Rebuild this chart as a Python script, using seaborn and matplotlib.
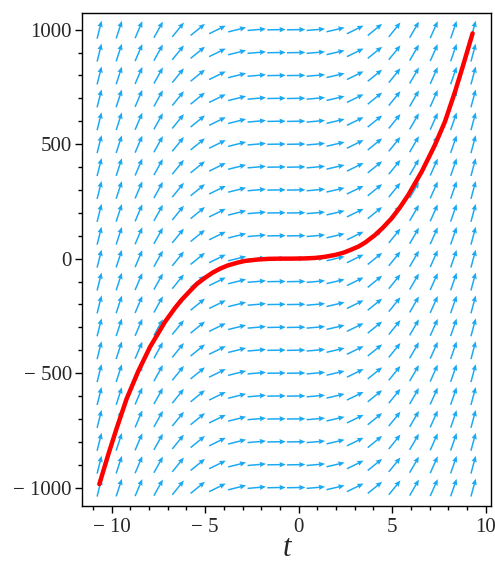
import numpy as np
import seaborn as sns
import matplotlib.pyplot as plt
from matplotlib.ticker import FixedLocator, MultipleLocator

# direction field: 20 columns in t, 21 rows in y
field_t = np.linspace(-10.66, 9.34, 20)
field_y = np.linspace(-1000, 1000, 21)
# on-screen arrow angle (degrees) read for each column
col_angles = [76, 72, 67, 61, 51, 39, 26, 14, 5, 1, 1, 5, 13, 26, 39, 51, 60, 66, 71, 75]

# solution curve, points
curve_t = [-10.66, -10.18, -9.73, -9.20, -8.58, -7.95, -7.15, -6.60, -6.26, -5.80,
           -5.45, -5.00, -4.60, -4.21, -3.80, -3.30, -2.87, -2.20, -1.63, -1.00,
           -0.37, 0.30, 0.87, 1.40, 1.94, 2.40, 2.83, 3.20, 3.55, 4.08,
           4.50, 4.97, 5.40, 5.86, 6.58, 7.29, 7.82, 8.36, 8.80, 9.30]
curve_y = [-985, -855, -740, -612, -492, -386, -276, -214, -180, -140,
           -111, -83, -61, -44, -30, -18, -10, -4, -1, 0,
           0, 1, 3, 8, 16, 26, 40, 53, 70, 103,
           135, 176, 222, 278, 380, 497, 598, 729, 846, 984]

xticks = [-10, -5, 0, 5, 10]
xlabels = ['\u2212 10', '\u2212 5', '0', '5', '10']
yticks = [-1000, -500, 0, 500, 1000]
ylabels = ['\u2212 1000', '\u2212 500', '0', '500', '1000']

sns.set_style('ticks')
plt.rcParams['font.family'] = ['Liberation Serif', 'DejaVu Serif']

fig = plt.figure(figsize=(4.95, 5.64), dpi=100)
ax = fig.add_axes([0.1663, 0.1034, 0.991 - 0.1663, 0.977 - 0.1034])

T, Y = np.meshgrid(field_t, field_y)
A = np.tile(np.array(col_angles, dtype=float), (len(field_y), 1))
U = np.full(T.shape, 18.5)
V = np.zeros(T.shape)
ax.quiver(T, Y, U, V, angles=A, units='dots', scale_units='dots', scale=1,
          pivot='middle', color='#1aa9f2', width=1.5,
          headwidth=3.6, headlength=4.2, headaxislength=3.8, zorder=2)

sns.lineplot(x=curve_t, y=curve_y, sort=False, color='#ff0000', lw=3.2,
             ax=ax, zorder=3)

ax.set_xlim(-11.57, 10.26)
ax.set_ylim(-1079, 1073)

ax.xaxis.set_major_locator(FixedLocator(xticks))
ax.set_xticklabels(xlabels)
ax.xaxis.set_minor_locator(MultipleLocator(1))
ax.yaxis.set_major_locator(FixedLocator(yticks))
ax.set_yticklabels(ylabels)
ax.yaxis.set_minor_locator(MultipleLocator(100))

ax.tick_params(which='major', length=5, width=1, labelsize=15, pad=2.5, color='black')
ax.tick_params(which='minor', length=3, width=1, color='black')
ax.tick_params(axis='x', which='major', pad=4)

for s in ax.spines.values():
    s.set_visible(True)
    s.set_color('black')
    s.set_linewidth(1)

ax.set_xlabel('t', fontsize=22, fontstyle='italic', labelpad=-2)
ax.set_ylabel('')

fig.savefig('out.png', dpi=100)
